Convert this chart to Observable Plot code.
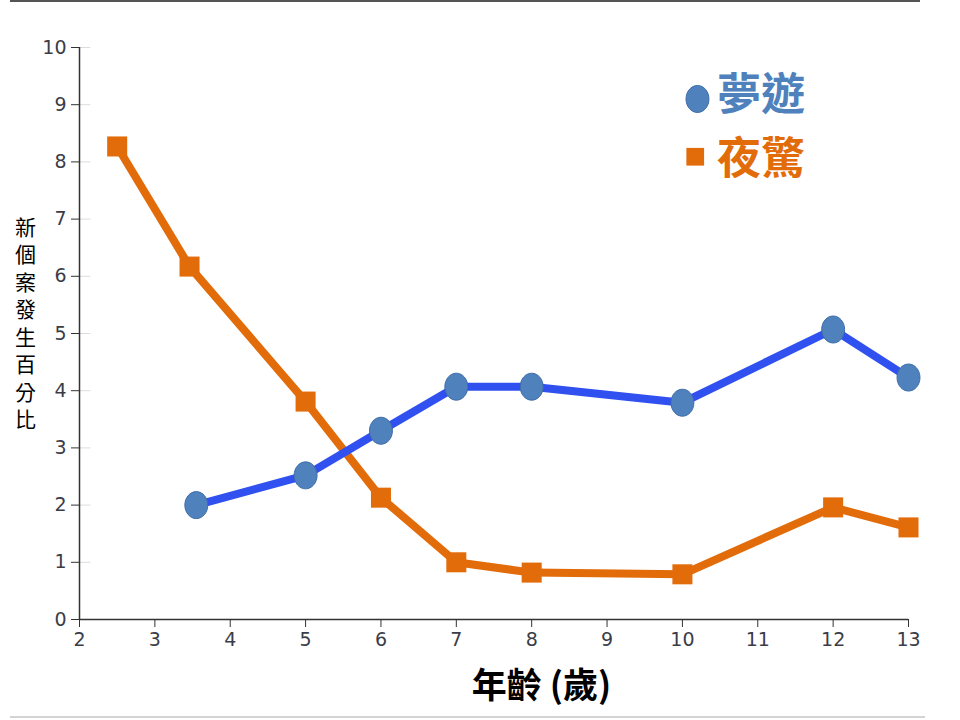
<!DOCTYPE html>
<html>
<head>
<meta charset="utf-8">
<script src="https://cdn.jsdelivr.net/npm/d3@7"></script>
<script src="https://cdn.jsdelivr.net/npm/@observablehq/plot@0.6"></script>
<style>
  html, body { margin: 0; padding: 0; background: #fff; }
  #wrap { position: relative; width: 960px; height: 720px; overflow: hidden; }
  #topline { position: absolute; left: 10px; top: 0; width: 910px; height: 2px; background: #555; }
  #botline { position: absolute; left: 10px; top: 716px; width: 915px; height: 2px; background: #d4d4d4; }
</style>
</head>
<body>
<div id="wrap">
  <div id="chart"></div>
  <div id="topline"></div>
  <div id="botline"></div>
</div>
<script>
// Data
const sleepwalkAge = [3.55, 5, 6, 7, 8, 10, 12, 13];
const sleepwalkPct = [2.0, 2.52, 3.3, 4.07, 4.07, 3.79, 5.07, 4.23];
const terrorAge = [2.5, 3.46, 5, 6, 7, 8, 10, 12, 13];
const terrorPct = [8.27, 6.17, 3.81, 2.13, 1.0, 0.82, 0.79, 1.96, 1.61];
const xTicks = [2, 3, 4, 5, 6, 7, 8, 9, 10, 11, 12, 13];
const yTicks = [0, 1, 2, 3, 4, 5, 6, 7, 8, 9, 10];
const seriesNames = ["夢遊", "夜驚"];
const xLabel = "年齡 (歲)";
const yLabel = "新個案發生百分比";

const blueLine = "#3050f0";
const blueDot = "#4f81bd";
const orange = "#e36c0a";

const sleepwalk = sleepwalkAge.map((a, i) => ({age: a, pct: sleepwalkPct[i]}));
const terror = terrorAge.map((a, i) => ({age: a, pct: terrorPct[i]}));

// ellipse symbol (slightly taller than wide)
const ellipse = {
  draw(ctx, size) {
    const r = Math.sqrt(size / Math.PI);
    const rx = r * 0.85, ry = r, k = 0.5523;
    ctx.moveTo(rx, 0);
    ctx.bezierCurveTo(rx, ry * k, rx * k, ry, 0, ry);
    ctx.bezierCurveTo(-rx * k, ry, -rx, ry * k, -rx, 0);
    ctx.bezierCurveTo(-rx, -ry * k, -rx * k, -ry, 0, -ry);
    ctx.bezierCurveTo(rx * k, -ry, rx, -ry * k, rx, 0);
    ctx.closePath();
  }
};

const cjk = "'Noto Sans CJK TC', 'Noto Sans CJK SC', sans-serif";

const chart = Plot.plot({
  width: 960,
  height: 720,
  marginLeft: 79,
  marginRight: 52,
  marginTop: 47,
  marginBottom: 101,
  x: {domain: [2, 13]},
  y: {domain: [0, 10]},
  style: {fontFamily: "'DejaVu Sans', sans-serif", fontSize: "19px", color: "#3a3d48", background: "transparent"},
  marks: [
    Plot.ruleY(yTicks.slice(1), {x1: 2, x2: 2.15, stroke: "#dcdcdc", strokeWidth: 1}),
    Plot.axisY({ticks: yTicks, tickSize: 8, tickPadding: 5, label: null, stroke: "#333", fontSize: 19}),
    Plot.axisX({ticks: xTicks, tickSize: 8, tickPadding: 5, label: null, stroke: "#333", fontSize: 19}),
    Plot.ruleX([2], {stroke: "#333", strokeWidth: 1.5}),
    Plot.ruleY([0], {stroke: "#333", strokeWidth: 1.5}),
    Plot.line(terror, {x: "age", y: "pct", stroke: orange, strokeWidth: 8, strokeLinejoin: "round"}),
    Plot.dot(terror, {x: "age", y: "pct", symbol: "square", r: 11.3, fill: orange}),
    Plot.line(sleepwalk, {x: "age", y: "pct", stroke: blueLine, strokeWidth: 8, strokeLinejoin: "round"}),
    Plot.dot(sleepwalk, {x: "age", y: "pct", symbol: ellipse, r: 13.5, fill: blueDot, stroke: "#3e6da8", strokeWidth: 1}),
    // legend
    Plot.dot([{x: 10.2, y: 9.1}], {x: "x", y: "y", symbol: ellipse, r: 13.5, fill: blueDot, stroke: "#3e6da8", strokeWidth: 1}),
    Plot.dot([{x: 10.17, y: 8.09}], {x: "x", y: "y", symbol: "square", r: 10, fill: orange}),
    Plot.text([seriesNames[0]], {x: 10.46, y: 9.15, text: d => d, textAnchor: "start", fill: blueDot, fontSize: 44, fontWeight: "bold", fontFamily: cjk}),
    Plot.text([seriesNames[1]], {x: 10.46, y: 8.04, text: d => d, textAnchor: "start", fill: orange, fontSize: 44, fontWeight: "bold", fontFamily: cjk}),
    // axis titles
    Plot.text([xLabel], {x: 8.13, y: 0, dy: 67, text: d => d, fill: "#000", fontSize: 35, fontWeight: "bold", fontFamily: cjk}),
    Plot.text([yLabel.split("").join("\n")], {x: 2, y: 5.2, dx: -54, text: d => d, fill: "#000", fontSize: 21, lineHeight: 1.31, fontFamily: cjk})
  ]
});
document.getElementById("chart").appendChild(chart);
</script>
</body>
</html>
